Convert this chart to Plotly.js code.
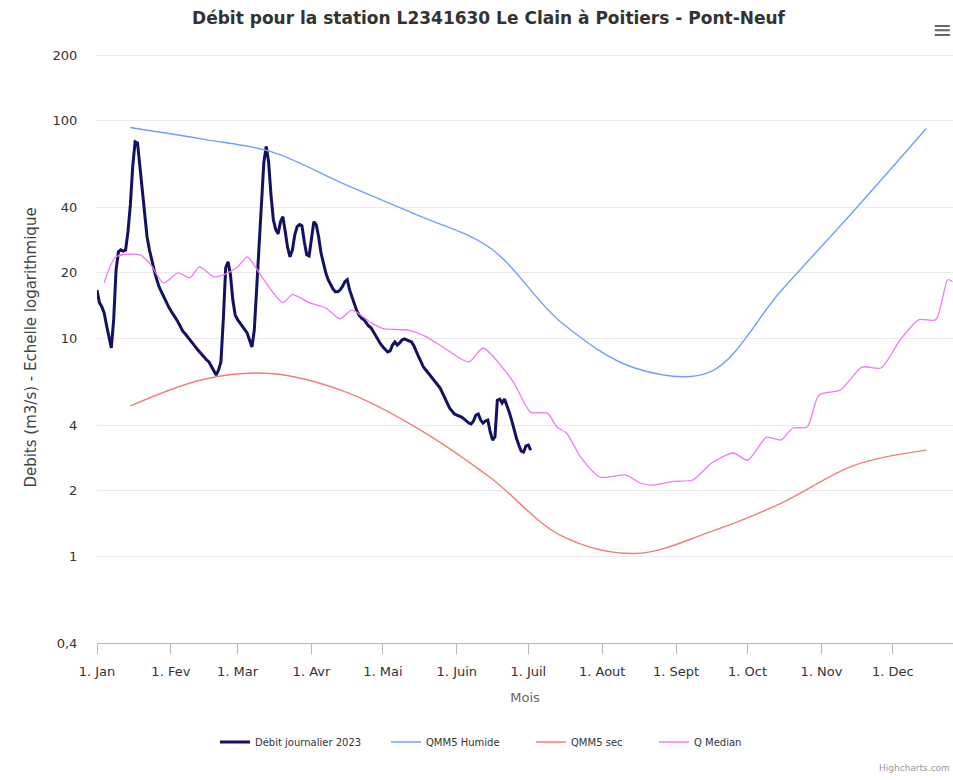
<!DOCTYPE html>
<html>
<head>
<meta charset="utf-8">
<script src="https://cdn.plot.ly/plotly-3.0.1.min.js"></script>
<style>html,body{margin:0;padding:0;background:#fff;}#chart{width:953px;height:780px;}</style>
</head>
<body>
<div id="chart"></div>
<script>
// ---- Data ----
const YEAR_START = Date.UTC(2023, 0, 1);

// Débit journalier 2023 : one value per day from 1 Jan (m3/s)
const dailyFlow2023 = [
  16.7,14.6,14.0,13.1,11.5,10.0,9.04,12.2,20.6,25.0,25.5,25.2,25.5,30.9,41,62,80,79,60.8,45.7,35.8,29.3,25.5,22.5,20.6,18.8,17.3,16.4,15.5,14.7,14.0,
  13.4,12.8,12.4,11.9,11.3,10.8,10.5,10.2,9.84,9.53,9.24,8.95,8.67,8.40,8.13,7.96,7.80,7.47,7.16,6.79,
  7.16,7.80,12.2,21.1,22.5,19.6,15.0,12.8,12.2,11.8,11.3,10.9,10.6,9.84,9.14,10.9,16.7,25.5,41.1,64.1,
  76,64.8,45.7,35.1,31.6,30.2,34.3,36.2,30.9,26.1,23.7,25.5,29.9,32.6,33.3,32.9,27.8,24.2,23.9,28.4,
  34.3,33.3,29.3,24.7,21.8,20.0,18.6,17.6,16.9,16.4,16.4,16.7,17.3,18.2,18.6,16.7,15.4,14.3,13.4,12.8,
  12.4,12.2,11.8,11.4,11.2,10.7,10.3,9.84,9.44,9.14,8.85,8.67,8.76,9.33,9.63,9.33,9.53,9.84,9.95,9.84,
  9.74,9.63,9.24,8.67,8.22,7.80,7.39,7.16,6.94,6.72,6.58,6.38,6.11,5.92,5.61,5.33,5.05,4.79,4.64,4.50,
  4.45,4.40,4.36,4.27,4.18,4.09,4.05,4.18,4.45,4.50,4.22,4.09,4.18,4.22,3.72,3.42,3.53,5.21,5.27,5.05,
  5.27,4.95,4.59,4.22,3.80,3.49,3.24,3.04,3.01,3.21,3.24,3.07
];

// QMM5 (monthly values, plotted mid-month)
const monthlyDays = [14, 45, 73, 104, 134, 165, 195, 226, 257, 287, 318, 348];
const qmm5Humide = [93, 82, 72, 51, 37, 26, 11.8, 7.3, 7.0, 16.5, 39, 92];
const qmm5Sec    = [4.9, 6.5, 6.9, 5.7, 3.9, 2.3, 1.24, 1.03, 1.29, 1.75, 2.62, 3.07];

// Q Median
const medianDays = [3,8,18,22,28,34,39,43,49,53,59,63,65,70,78,82,89,96,102,107,115,120,131,138,147,156,162,170,175,182,189,193,197,203,211,222,228,233,242,250,258,267,273,281,287,292,298,303,312,321,329,337,345,352,357,359];
const medianVals = [18.0,23.7,24.2,22.2,18.0,20.0,19.0,21.3,19.2,19.6,21.3,23.7,22.5,18.6,14.6,15.9,14.6,13.8,12.3,13.5,11.8,11.1,10.9,10.2,8.85,7.80,9.04,7.39,6.24,4.59,4.54,3.92,3.68,2.85,2.31,2.36,2.17,2.12,2.21,2.24,2.68,2.98,2.76,3.52,3.42,3.88,3.92,5.50,5.80,7.39,7.32,9.84,12.2,12.2,18.6,18.2];

// Axis ticks
const monthTickDates = ['2023-01-01','2023-02-01','2023-03-01','2023-04-01','2023-05-01','2023-06-01','2023-07-01','2023-08-01','2023-09-01','2023-10-01','2023-11-01','2023-12-01'];
const monthTickLabels = ['1. Jan','1. Fev','1. Mar','1. Avr','1. Mai','1. Juin','1. Juil','1. Aout','1. Sept','1. Oct','1. Nov','1. Dec'];
const yTickVals = [0.4, 1, 2, 4, 10, 20, 40, 100, 200];
const yTickLabels = ['0,4', '1', '2', '4', '10', '20', '40', '100', '200'];

// ---- Build ----
const dayToDate = d => new Date(YEAR_START + d * 86400000).toISOString();
const FONT = 'DejaVu Sans, Liberation Sans, Arial, sans-serif';

const traces = [
  {
    name: 'Débit journalier 2023', legend: 'legend',
    x: dailyFlow2023.map((v, i) => dayToDate(i)), y: dailyFlow2023,
    mode: 'lines', line: {color: '#121262', width: 3}
  },
  {
    name: 'QMM5 Humide', legend: 'legend2',
    x: monthlyDays.map(dayToDate), y: qmm5Humide,
    mode: 'lines', line: {color: '#739dff', width: 1.4, shape: 'spline', smoothing: 1}
  },
  {
    name: 'QMM5 sec', legend: 'legend3',
    x: monthlyDays.map(dayToDate), y: qmm5Sec,
    mode: 'lines', line: {color: '#f27d7a', width: 1.4, shape: 'spline', smoothing: 1}
  },
  {
    name: 'Q Median', legend: 'legend4',
    x: medianDays.map(dayToDate), y: medianVals,
    mode: 'lines', line: {color: '#f07af0', width: 1.3, shape: 'spline', smoothing: 0.7}
  }
];

// plot box: 200 gridline at y=55, 0.4 at y=643; extend top 3px so the 200 gridline shows
const W = 953, H = 780;
const plotL = 97, plotR = 953, plotB = 643, y200 = 55, extraTop = 3;
const plotT = y200 - extraTop;
const pxPerDecade = (plotB - y200) / (Math.log10(200) - Math.log10(0.4));
const pw = plotR - plotL, ph = plotB - plotT;
const px2x = p => (p - plotL) / pw;
const px2y = p => (plotB - p) / ph;

const legendFont = {family: FONT, size: 10, color: '#333'};
const mkLegend = itemPx => ({
  orientation: 'h', x: px2x(itemPx), xanchor: 'left', y: px2y(742), yanchor: 'middle',
  font: legendFont, bgcolor: 'rgba(0,0,0,0)', borderwidth: 0
});

const layout = {
  width: W, height: H,
  margin: {l: plotL, r: W - plotR, t: plotT, b: H - plotB, pad: 0},
  paper_bgcolor: '#fff', plot_bgcolor: '#fff',
  font: {family: FONT, color: '#333'},
  title: {
    text: 'Débit pour la station L2341630 Le Clain à Poitiers - Pont-Neuf',
    font: {family: FONT, size: 17, color: '#333', weight: 'bold'},
    x: 488.5 / W, xanchor: 'center', xref: 'container',
    y: 1 - 18 / H, yanchor: 'middle', yref: 'container'
  },
  xaxis: {
    type: 'date',
    range: [YEAR_START, YEAR_START + ((plotR - plotL) / 2.383) * 86400000],
    tickmode: 'array', tickvals: monthTickDates, ticktext: monthTickLabels,
    ticks: 'outside', ticklen: 10, tickcolor: '#b8b8b8', tickwidth: 1,
    ticklabelstandoff: 6,
    showline: true, linecolor: '#b8b8b8', linewidth: 1,
    showgrid: false, zeroline: false,
    tickfont: {family: FONT, size: 13, color: '#333'},
    title: {text: 'Mois', font: {family: FONT, size: 13, color: '#666'}, standoff: 15},
    automargin: false, fixedrange: true
  },
  yaxis: {
    type: 'log',
    range: [Math.log10(0.4), Math.log10(200) + extraTop / pxPerDecade],
    tickmode: 'array', tickvals: yTickVals, ticktext: yTickLabels,
    ticks: 'outside', ticklen: 8, tickcolor: 'rgba(0,0,0,0)',
    ticklabelstandoff: 8,
    showgrid: true, gridcolor: '#ebebeb', gridwidth: 1,
    showline: false, zeroline: false,
    tickfont: {family: FONT, size: 13, color: '#333'},
    title: {text: 'Debits (m3/s) - Echelle logarithmique', font: {family: FONT, size: 15, color: '#444'}, standoff: 12},
    automargin: false, fixedrange: true
  },
  showlegend: true,
  legend: mkLegend(215),
  legend2: mkLegend(386),
  legend3: mkLegend(531),
  legend4: mkLegend(654),
  annotations: [
    {text: '≡', xref: 'paper', yref: 'paper', x: px2x(942), y: px2y(30), xanchor: 'center', yanchor: 'middle',
     showarrow: false, font: {family: FONT, size: 24, color: '#666'}},
    {text: 'Highcharts.com', xref: 'paper', yref: 'paper', x: px2x(877), y: px2y(768), xanchor: 'left', yanchor: 'middle',
     showarrow: false, font: {family: FONT, size: 9, color: '#999'}}
  ]
};

Plotly.newPlot('chart', traces, layout, {displayModeBar: false, staticPlot: true});
</script>
</body>
</html>
